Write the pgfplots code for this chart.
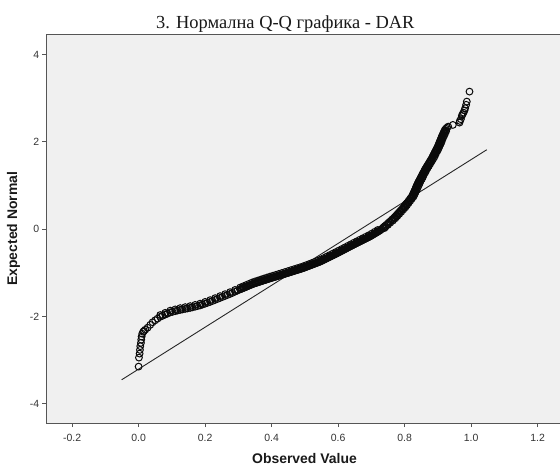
\documentclass[border=0pt]{standalone}
\usepackage{fontspec}
\setmainfont{Liberation Serif}
\newfontfamily\arial{Liberation Sans}
\usepackage{pgfplots}
\pgfplotsset{compat=1.18}
\definecolor{bgc}{HTML}{F0F0F0}
\definecolor{framec}{HTML}{555555}
\definecolor{txtc}{HTML}{333333}
\definecolor{ptc}{HTML}{0A0A0A}
\pgfplotsset{qq/.style={only marks, mark=o, mark size=3.4bp, mark options={draw=ptc, line width=1bp}}}
\begin{document}
\begin{tikzpicture}
\useasboundingbox (-46.4bp,-43bp) rectangle (513.6bp,423bp);
\begin{axis}[
  at={(0,0)}, anchor=south west,
  scale only axis,
  width=524.5bp, height=388.5bp,
  xmin=-0.2773, xmax=1.30, ymin=-4.44, ymax=4.46,
  axis background/.style={fill=bgc},
  axis line style={framec, line width=1bp},
  every tick/.style={framec, line width=1bp},
  major tick length=4bp,
  tick align=outside,
  tick pos=left,
  xtick={-0.2,0,0.2,0.4,0.6,0.8,1.0,1.2},
  xticklabels={-0.2,0.0,0.2,0.4,0.6,0.8,1.0,1.2},
  ytick={-4,-2,0,2,4},
  yticklabels={-4,-2,0,2,4},
  ticklabel style={font=\arial\fontsize{10.5}{12}\selectfont, text=txtc, inner sep=0pt},
  xticklabel style={anchor=north, yshift=-6.5bp},
  yticklabel style={anchor=east, xshift=-3bp},
  title={3. Нормална Q-Q графика - DAR},
  every axis title/.style={at={(axis description cs:0.4555,1.0142)}, anchor=base, font=\fontsize{18.5}{22}\selectfont, text=black!90},
  xlabel={Observed Value},
  xlabel style={at={(axis description cs:0.4921,-0.1037)}, anchor=base, font=\arial\bfseries\fontsize{14}{16}\selectfont, text=black!90},
  ylabel={Expected Normal},
  ylabel style={at={(axis description cs:-0.0629,0.5)}, anchor=center, font=\arial\bfseries\fontsize{14}{16}\selectfont, text=black!90},
]
\addplot[no marks, draw=black!85, line width=0.9bp] coordinates {(-0.051,-3.45) (1.047,1.82)};
\addplot[qq] table {
x y
0.000 -3.148
0.001 -2.942
0.003 -2.850
0.004 -2.765
0.005 -2.680
0.007 -2.605
0.008 -2.530
0.009 -2.460
0.011 -2.395
0.014 -2.350
0.016 -2.330
0.020 -2.303
0.027 -2.257
0.035 -2.191
0.042 -2.132
0.050 -2.086
0.057 -2.048
0.065 -2.007
0.072 -1.983
0.080 -1.956
0.087 -1.933
0.095 -1.906
0.102 -1.893
0.110 -1.878
0.117 -1.864
0.125 -1.849
0.132 -1.838
0.140 -1.826
0.147 -1.815
0.155 -1.803
0.162 -1.790
0.170 -1.775
0.177 -1.761
0.185 -1.746
0.192 -1.727
0.200 -1.706
0.207 -1.687
0.215 -1.666
0.222 -1.645
0.230 -1.620
0.237 -1.599
0.245 -1.574
0.252 -1.553
0.260 -1.529
0.267 -1.507
0.275 -1.483
0.282 -1.459
0.290 -1.431
0.297 -1.407
0.305 -1.379
0.308 -1.369
0.311 -1.360
0.314 -1.350
0.317 -1.340
0.320 -1.331
0.323 -1.321
0.326 -1.311
0.329 -1.301
0.332 -1.292
0.335 -1.282
0.338 -1.272
0.341 -1.263
0.344 -1.253
0.347 -1.246
0.350 -1.238
0.353 -1.231
0.356 -1.223
0.359 -1.216
0.362 -1.209
0.365 -1.201
0.368 -1.194
0.371 -1.186
0.374 -1.179
0.377 -1.171
0.380 -1.164
0.383 -1.157
0.386 -1.149
0.389 -1.142
0.392 -1.134
0.395 -1.127
0.398 -1.120
0.401 -1.113
0.404 -1.106
0.407 -1.099
0.410 -1.092
0.413 -1.085
0.416 -1.078
0.419 -1.071
0.422 -1.064
0.425 -1.057
0.428 -1.050
0.431 -1.043
0.434 -1.036
0.437 -1.029
0.440 -1.022
0.443 -1.015
0.446 -1.008
0.449 -1.001
0.452 -0.994
0.455 -0.986
0.458 -0.979
0.461 -0.972
0.464 -0.965
0.467 -0.958
0.470 -0.950
0.473 -0.943
0.476 -0.936
0.479 -0.929
0.482 -0.922
0.485 -0.915
0.488 -0.907
0.491 -0.900
0.494 -0.893
0.497 -0.884
0.500 -0.876
0.503 -0.867
0.506 -0.858
0.509 -0.849
0.512 -0.841
0.515 -0.832
0.518 -0.823
0.521 -0.815
0.524 -0.806
0.527 -0.797
0.530 -0.789
0.533 -0.780
0.536 -0.771
0.539 -0.762
0.542 -0.754
0.545 -0.745
0.548 -0.734
0.551 -0.723
0.554 -0.712
0.557 -0.701
0.560 -0.689
0.563 -0.678
0.566 -0.667
0.569 -0.655
0.572 -0.644
0.575 -0.633
0.578 -0.621
0.581 -0.610
0.584 -0.599
0.587 -0.588
0.590 -0.576
0.593 -0.565
0.596 -0.554
0.599 -0.542
0.602 -0.530
0.605 -0.518
0.608 -0.506
0.611 -0.495
0.614 -0.483
0.617 -0.471
0.620 -0.459
0.623 -0.447
0.626 -0.435
0.629 -0.423
0.632 -0.411
0.635 -0.400
0.638 -0.388
0.641 -0.376
0.644 -0.364
0.647 -0.352
0.650 -0.341
0.653 -0.329
0.656 -0.318
0.659 -0.306
0.662 -0.295
0.665 -0.283
0.668 -0.272
0.671 -0.261
0.674 -0.249
0.677 -0.238
0.680 -0.226
0.683 -0.215
0.686 -0.203
0.689 -0.192
0.692 -0.180
0.695 -0.169
0.698 -0.156
0.701 -0.142
0.704 -0.128
0.707 -0.114
0.710 -0.101
0.713 -0.087
0.716 -0.073
0.719 -0.059
0.722 -0.045
0.725 -0.032
0.728 -0.015
0.730 0.000
0.734 0.025
0.737 0.050
0.741 0.075
0.745 0.100
0.749 0.125
0.752 0.150
0.756 0.175
0.760 0.200
0.763 0.225
0.767 0.250
0.770 0.275
0.773 0.300
0.776 0.325
0.779 0.350
0.782 0.375
0.785 0.400
0.788 0.425
0.791 0.450
0.794 0.475
0.797 0.500
0.799 0.525
0.802 0.550
0.804 0.575
0.807 0.600
0.810 0.625
0.812 0.650
0.815 0.675
0.817 0.700
0.820 0.725
0.822 0.750
0.824 0.775
0.825 0.800
0.827 0.825
0.828 0.850
0.830 0.875
0.831 0.900
0.833 0.925
0.834 0.950
0.835 0.975
0.837 1.000
0.838 1.025
0.840 1.050
0.841 1.075
0.843 1.100
0.845 1.125
0.847 1.150
0.848 1.175
0.850 1.200
0.852 1.225
0.853 1.250
0.855 1.275
0.857 1.300
0.859 1.325
0.860 1.350
0.862 1.375
0.864 1.400
0.866 1.425
0.868 1.450
0.870 1.475
0.872 1.500
0.874 1.525
0.876 1.550
0.878 1.575
0.880 1.600
0.882 1.625
0.884 1.650
0.885 1.675
0.887 1.700
0.889 1.725
0.890 1.750
0.892 1.775
0.894 1.800
0.895 1.825
0.897 1.850
0.899 1.875
0.900 1.900
0.902 1.925
0.903 1.950
0.904 1.975
0.906 2.000
0.907 2.025
0.908 2.050
0.910 2.075
0.911 2.100
0.912 2.125
0.914 2.150
0.915 2.175
0.917 2.200
0.918 2.225
0.920 2.250
0.921 2.275
0.924 2.300
0.927 2.325
0.931 2.350
0.945 2.389
0.965 2.442
0.966 2.480
0.969 2.520
0.972 2.596
0.974 2.630
0.977 2.671
0.980 2.720
0.982 2.772
0.985 2.850
0.987 2.923
0.995 3.152
};
\addplot[qq] table {
x y
0.065 -1.967
0.080 -1.916
0.095 -1.866
0.110 -1.838
0.125 -1.809
0.140 -1.786
0.155 -1.763
0.170 -1.735
0.185 -1.706
0.200 -1.666
0.215 -1.626
0.230 -1.580
0.245 -1.534
0.260 -1.489
0.275 -1.443
0.290 -1.391
0.305 -1.339
0.314 -1.310
0.323 -1.281
0.332 -1.252
0.341 -1.223
0.350 -1.198
0.359 -1.176
0.368 -1.154
0.377 -1.131
0.386 -1.109
0.395 -1.087
0.404 -1.066
0.413 -1.045
0.422 -1.024
0.431 -1.003
0.440 -0.982
0.449 -0.961
0.458 -0.939
0.467 -0.918
0.476 -0.896
0.485 -0.875
0.494 -0.853
0.503 -0.827
0.512 -0.801
0.521 -0.775
0.530 -0.749
0.539 -0.722
0.548 -0.694
0.557 -0.661
0.566 -0.627
0.575 -0.593
0.584 -0.559
0.593 -0.525
0.602 -0.490
0.611 -0.455
0.620 -0.419
0.629 -0.383
0.638 -0.348
0.647 -0.312
0.656 -0.278
0.665 -0.243
0.674 -0.209
0.683 -0.175
0.692 -0.140
0.701 -0.102
0.710 -0.061
0.719 -0.019
0.739 0.025
0.742 0.050
0.750 0.100
0.757 0.150
0.765 0.200
0.772 0.250
0.778 0.300
0.784 0.350
0.790 0.400
0.796 0.450
0.802 0.500
0.807 0.550
0.812 0.600
0.817 0.650
0.822 0.700
0.827 0.750
0.830 0.800
0.833 0.850
0.836 0.900
0.839 0.950
0.842 1.000
0.845 1.050
0.848 1.100
0.852 1.150
0.855 1.200
0.858 1.250
0.862 1.300
0.865 1.350
0.869 1.400
0.873 1.450
0.877 1.500
0.881 1.550
0.885 1.600
0.889 1.650
0.892 1.700
0.895 1.750
0.899 1.800
0.902 1.850
0.905 1.900
0.908 1.950
0.911 2.000
0.913 2.050
0.916 2.100
0.919 2.150
0.922 2.200
0.925 2.250
};
\end{axis}
\end{tikzpicture}
\end{document}
